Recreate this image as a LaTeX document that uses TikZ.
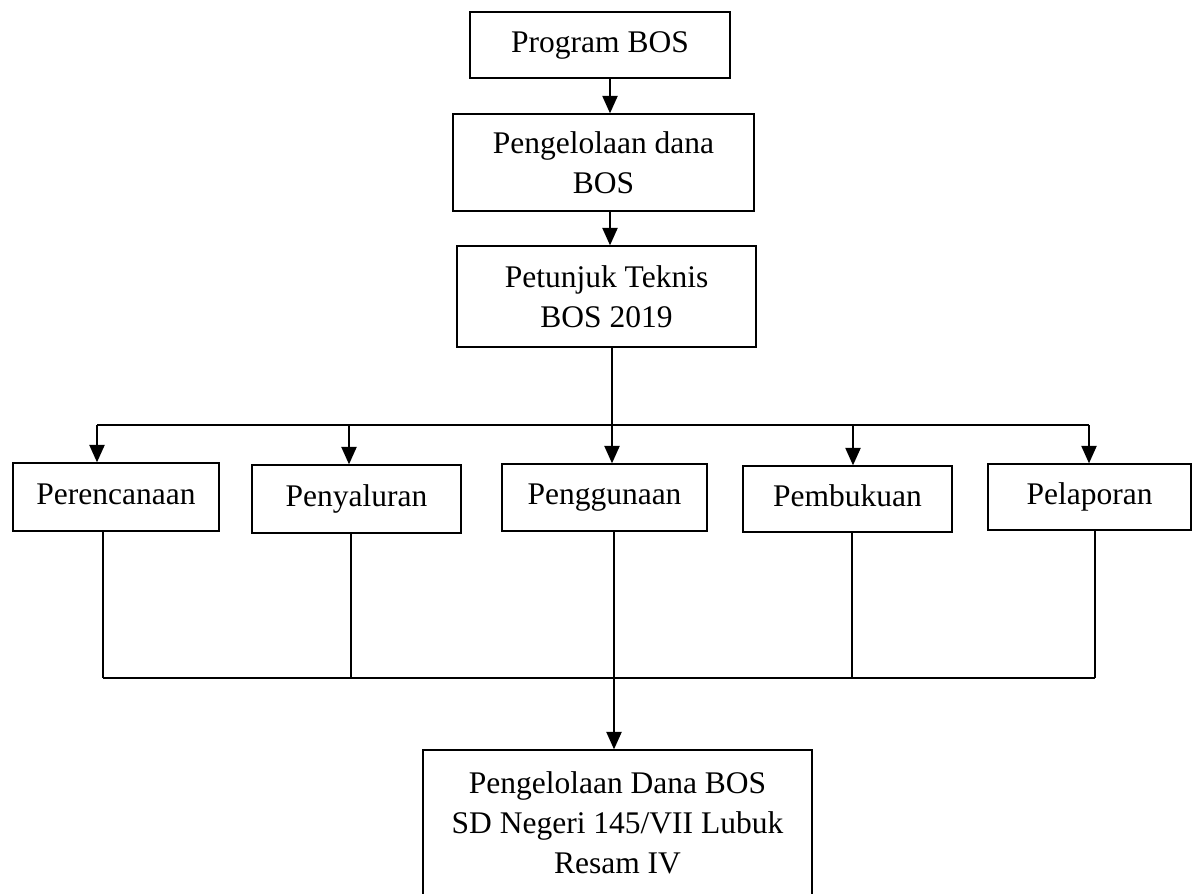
\documentclass[tikz,border=0pt]{standalone}
\usepackage{fontspec}
\setmainfont{Liberation Serif}
\usetikzlibrary{arrows.meta}

\tikzset{
  kotak/.style={draw, line width=0.5pt, inner sep=0pt, align=center,
    font=\fontsize{12.6}{16}\selectfont},
  satu/.style={kotak, text height=8.8pt, text depth=3.2pt},
  garis/.style={line width=0.9pt},
  panah/.style={garis, -{Triangle[width=6pt,length=7pt]}},
}

\begin{document}
\begin{tikzpicture}[x=0.4pt,y=-0.4pt]
\useasboundingbox (0,0) rectangle (1192,893);
\clip (0,0) rectangle (1192,893);

% alur atas
\node[satu, line width=1pt, minimum width=260*0.4pt, minimum height=66*0.4pt] (prog) at (600,45) {Program BOS};
\node[kotak, minimum width=301*0.4pt, minimum height=97*0.4pt] (dana) at (603.5,162.5) {Pengelolaan dana\\BOS};
\node[kotak, minimum width=299*0.4pt, minimum height=101*0.4pt] (juknis) at (606.5,296.5) {Petunjuk Teknis\\BOS 2019};

% lima komponen
\node[satu, minimum width=206*0.4pt, minimum height=68*0.4pt] (rencana) at (116,497) {Perencanaan};
\node[satu, minimum width=209*0.4pt, minimum height=68*0.4pt] (salur) at (356.5,499) {Penyaluran};
\node[satu, minimum width=205*0.4pt, minimum height=67*0.4pt] (guna) at (604.5,497.5) {Penggunaan};
\node[satu, minimum width=209*0.4pt, minimum height=66*0.4pt] (buku) at (847.5,499) {Pembukuan};
\node[satu, minimum width=203*0.4pt, minimum height=66*0.4pt] (lapor) at (1089.5,497) {Pelaporan};

% hasil
\node[kotak, minimum width=389*0.4pt, minimum height=146*0.4pt] (hasil) at (617.5,823)
  {Pengelolaan Dana BOS\\SD Negeri 145/VII Lubuk\\Resam IV};

\coordinate (sumbu) at (610,0);
\coordinate (cabang) at (612,425);
\coordinate (bawah) at (614,678);

\draw[panah] (prog.south -| sumbu) -- (dana.north -| sumbu);
\draw[panah] (dana.south -| sumbu) -- (juknis.north -| sumbu);
\draw[garis] (juknis.south -| cabang) -- (cabang);
\draw[garis] (cabang -| 97,0) -- (cabang -| 1089,0);
\draw[panah] (cabang) -- (guna.north -| cabang);

\foreach \n/\xa/\xb in {rencana/97/103, salur/349/351, buku/853/852, lapor/1089/1095}{
  \draw[panah] (cabang -| \xa,0) -- (\n.north -| \xa,0);
  \draw[garis] (\n.south -| \xb,0) -- (bawah -| \xb,0);
}

\draw[garis] (bawah -| 103,0) -- (bawah -| 1095,0);
\draw[panah] (guna.south -| bawah) -- (hasil.north -| bawah);
\end{tikzpicture}
\end{document}
